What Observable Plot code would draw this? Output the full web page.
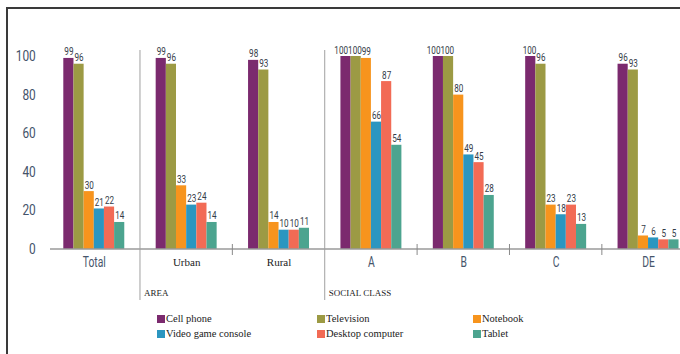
<!DOCTYPE html>
<html>
<head>
<meta charset="utf-8">
<script src="https://cdn.jsdelivr.net/npm/d3@7"></script>
<script src="https://cdn.jsdelivr.net/npm/@observablehq/plot@0.6"></script>
<style>
  html, body { margin: 0; padding: 0; background: #fff; }
  #chart { position: relative; width: 680px; height: 354px; overflow: hidden; }
  #frame { position: absolute; left: 6px; top: 7px; right: 0; bottom: 0;
           border-top: 2px solid #3a3a3a; border-left: 2px solid #3a3a3a; pointer-events: none; }
  .legend { display: grid; grid-template-columns: 160px 156px 140px; margin-left: 157px; padding-top: 6px;
            font-family: "Liberation Serif", "DejaVu Serif", serif; font-size: 10.5px; color: #222; }
  .legend .item { display: flex; align-items: center; height: 15px; white-space: nowrap; }
  .legend .sw { width: 8px; height: 8px; margin-right: 1px; flex: none; }
</style>
</head>
<body>
<div id="chart"><div id="frame"></div></div>
<script>
// Household ownership of devices (%), by area and social class
const groups = ["Total", "Urban", "Rural", "A", "B", "C", "DE"];
const areaGroups = ["Urban", "Rural"];
const classGroups = ["A", "B", "C", "DE"];
const sectionLabels = ["AREA", "SOCIAL CLASS"];

const series = ["Cell phone", "Television", "Notebook", "Video game console", "Desktop computer", "Tablet"];
const colors = ["#7b2a6e", "#9c9a44", "#f7941d", "#2b96c0", "#f26b55", "#4ca48f"];

// one value per group, in the order of `groups`
const cellPhone  = [99, 99, 98, 100, 100, 100, 96];
const television = [96, 96, 93, 100, 100, 96, 93];
const notebook   = [30, 33, 14, 99, 80, 23, 7];
const videoGame  = [21, 23, 10, 66, 49, 18, 6];
const desktop    = [22, 24, 10, 87, 45, 23, 5];
const tablet     = [14, 14, 11, 54, 28, 13, 5];

const yTicks = [0, 20, 40, 60, 80, 100];

const seriesValues = [cellPhone, television, notebook, videoGame, desktop, tablet];
const rows = [];
groups.forEach((g, gi) => series.forEach((s, si) =>
  rows.push({group: g, series: s, value: seriesValues[si][gi]})));

const sansFont = 'Roboto, "Liberation Sans", sans-serif';
const serifFont = '"Liberation Serif", "DejaVu Serif", serif';

const plot = Plot.plot({
  width: 680,
  height: 305,
  marginLeft: 50,
  marginRight: 0,
  marginTop: 56,
  marginBottom: 56,
  style: {fontFamily: sansFont, fontSize: "14px", color: "#44536a", background: "transparent", overflow: "visible"},
  fx: {domain: groups, paddingInner: 0.34, paddingOuter: 0.08, align: 0.9, round: false, axis: null, label: null},
  x: {domain: series, padding: 0, round: false, axis: null},
  y: {domain: [0, 100], ticks: yTicks, tickSize: 0, tickPadding: 28, label: null},
  color: {domain: series, range: colors},
  marks: [
    Plot.barY(rows, {fx: "group", x: "series", y: "value", fill: "series"}),
    Plot.text(rows, {
      fx: "group", x: "series", y: "value", text: "value",
      lineAnchor: "bottom", dy: -3, fontSize: 11, fill: "#343c48", ariaDescription: "value labels"
    }),
    Plot.text(groups.filter(g => !areaGroups.includes(g)), {
      fx: d => d, text: d => d, frameAnchor: "bottom", lineAnchor: "middle", dy: 13,
      fontSize: 14, fill: "#46556b", ariaDescription: "group labels"
    }),
    Plot.text(areaGroups, {
      fx: d => d, text: d => d, frameAnchor: "bottom", lineAnchor: "middle", dy: 13,
      fontSize: 11, fontFamily: serifFont, fill: "#222"
    })
  ]
});

const chart = document.getElementById("chart");
chart.insertBefore(plot, document.getElementById("frame"));

// legend: three columns, two rows
const legend = d3.select(chart).insert("div", "#frame").attr("class", "legend");
series.forEach((s, i) => {
  const item = legend.append("div").attr("class", "item");
  item.append("span").attr("class", "sw").style("background", colors[i]);
  item.append("span").text(s);
});

// narrow the sans-serif text horizontally around its anchor point
function condense(el, k) {
  const bb = el.getBBox();
  const anchor = getComputedStyle(el).textAnchor;
  const ax = anchor === "middle" ? bb.x + bb.width / 2 : anchor === "end" ? bb.x + bb.width : bb.x;
  const tr = el.getAttribute("transform") || "";
  el.setAttribute("transform", `${tr} translate(${ax},0) scale(${k},1) translate(${-ax},0)`.trim());
}
plot.querySelectorAll('[aria-label^="y-axis"] text').forEach(t => condense(t, 0.85));
plot.querySelectorAll('[aria-description="group labels"] text').forEach(t => condense(t, 0.74));
const valueTexts = plot.querySelectorAll('[aria-description="value labels"] text');
valueTexts.forEach(t => condense(t, 0.74));

// baseline, group separators and section captions
const fx = plot.scale("fx");
const y = plot.scale("y");
const step = fx.step ?? (fx.apply(groups[1]) - fx.apply(groups[0]));
const gap = step - fx.bandwidth;
const y0 = y.apply(0);
const yTop = y.apply(y.domain[1]);
const deco = d3.select(plot).append("g").attr("aria-label", "separators");

deco.append("line")
  .attr("x1", fx.range[0]).attr("x2", fx.range[1])
  .attr("y1", y0).attr("y2", y0)
  .attr("stroke", "#9a9a9a").attr("stroke-width", 1.3);

const sectionStarts = [areaGroups[0], classGroups[0]];
groups.slice(1).forEach(g => {
  const bx = fx.apply(g) - gap / 2;
  const k = sectionStarts.indexOf(g);
  if (k >= 0) {
    deco.append("line")
      .attr("x1", bx).attr("x2", bx)
      .attr("y1", yTop - 6).attr("y2", y0 + 51)
      .attr("stroke", "#a0a0a0").attr("stroke-width", 1);
    deco.append("text")
      .attr("x", bx + 4).attr("y", y0 + 47)
      .attr("text-anchor", "start")
      .attr("font-family", serifFont).attr("font-size", 9).attr("fill", "#222")
      .text(sectionLabels[k]);
  } else {
    deco.append("line")
      .attr("x1", bx).attr("x2", bx)
      .attr("y1", y0 - 5).attr("y2", y0 + 6)
      .attr("stroke", "#8a8a8a").attr("stroke-width", 1);
  }
});

// keep neighbouring value labels from running into each other
const byParent = new Map();
valueTexts.forEach(t => {
  const p = t.parentNode;
  if (!byParent.has(p)) byParent.set(p, []);
  byParent.get(p).push(t);
});
byParent.forEach(texts => {
  for (let i = texts.length - 2; i >= 0; i--) {
    const a = texts[i].getBoundingClientRect();
    const b = texts[i + 1].getBoundingClientRect();
    const overlap = a.right - b.left;
    if (overlap > 0) {
      const tr = texts[i].getAttribute("transform") || "";
      texts[i].setAttribute("transform", `translate(${-overlap},0) ${tr}`.trim());
    }
  }
});
</script>
</body>
</html>
